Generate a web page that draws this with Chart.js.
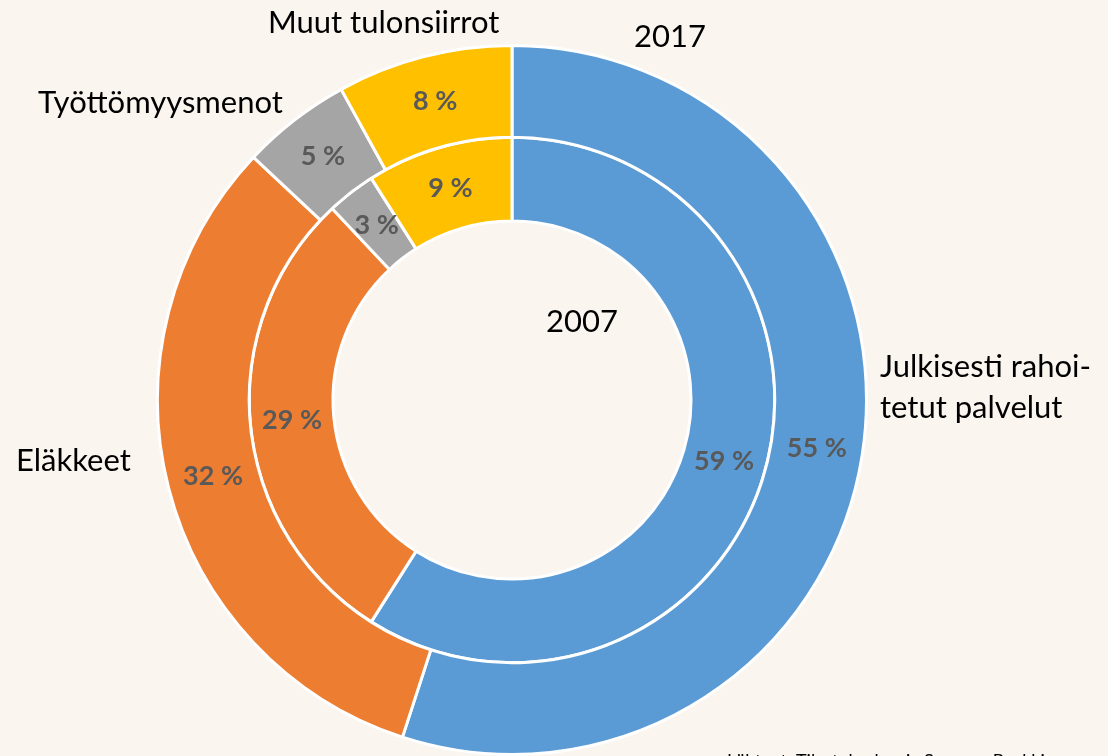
<!DOCTYPE html>
<html>
<head>
<meta charset="utf-8">
<script src="https://cdn.jsdelivr.net/npm/chart.js@4"></script>
<style>
    html, body { margin: 0; padding: 0; background: #faf5ef; }
    #wrap { width: 1108px; height: 756px; position: relative; }
</style>
</head>
<body>
<div id="wrap"><canvas id="chart"></canvas></div>
<script>
// Osuudet (%), sama järjestys molemmissa renkaissa
const categories = ['Julkisesti rahoitetut palvelut', 'Eläkkeet', 'Työttömyysmenot', 'Muut tulonsiirrot'];
const values2017 = [55, 32, 5, 8];
const values2007 = [59, 29, 3, 9];
const colors = ['#5b9bd5', '#ed7d31', '#a5a5a5', '#ffc000'];

// Kategorioiden nimet kaavion ympärillä
const categoryLabels = [
    { lines: ['Julkisesti rahoi-', 'tetut palvelut'], x: 880, y: 367 },
    { lines: ['Eläkkeet'], x: 16, y: 461 },
    { lines: ['Työttömyysmenot'], x: 38, y: 103 },
    { lines: ['Muut tulonsiirrot'], x: 268, y: 23 }
];

const labelsPlugin = {
    id: 'labels',
    afterDatasetsDraw(chart) {
        const ctx = chart.ctx;
        ctx.save();
        ctx.textAlign = 'center';
        ctx.textBaseline = 'middle';
        ctx.font = 'bold 27px Lato';
        ctx.fillStyle = '#595959';
        chart.data.datasets.forEach((ds, i) => {
            chart.getDatasetMeta(i).data.forEach((arc, j) => {
                const p = arc.tooltipPosition();
                ctx.fillText(ds.data[j] + ' %', p.x, p.y);
            });
        });

        ctx.fillStyle = '#000000';
        ctx.font = '31px Lato';
        ctx.textAlign = 'left';
        categoryLabels.forEach(l => {
            l.lines.forEach((line, k) => ctx.fillText(line, l.x, l.y + k * 41));
        });
        ctx.fillText('2017', 634, 37);
        ctx.fillText('2007', 546, 322);

        ctx.font = '18px Lato';
        ctx.fillText('Lähteet: Tilastokeskus ja Suomen Pankki', 727, 761);
        ctx.restore();
    }
};

new Chart(document.getElementById('chart'), {
    type: 'doughnut',
    data: {
        labels: categories,
        datasets: [
            {
                label: '2017',
                data: values2017,
                backgroundColor: colors,
                borderColor: '#ffffff',
                borderWidth: 3,
                weight: 91
            },
            {
                label: '2007',
                data: values2007,
                backgroundColor: colors,
                borderColor: '#ffffff',
                borderWidth: 3,
                weight: 83
            }
        ]
    },
    options: {
        responsive: true,
        maintainAspectRatio: false,
        animation: false,
        cutout: '50.5%',
        layout: {
            padding: { left: 156, right: 240, top: 44, bottom: 0 }
        },
        plugins: {
            legend: { display: false },
            tooltip: { enabled: false }
        }
    },
    plugins: [labelsPlugin]
});
</script>
</body>
</html>
